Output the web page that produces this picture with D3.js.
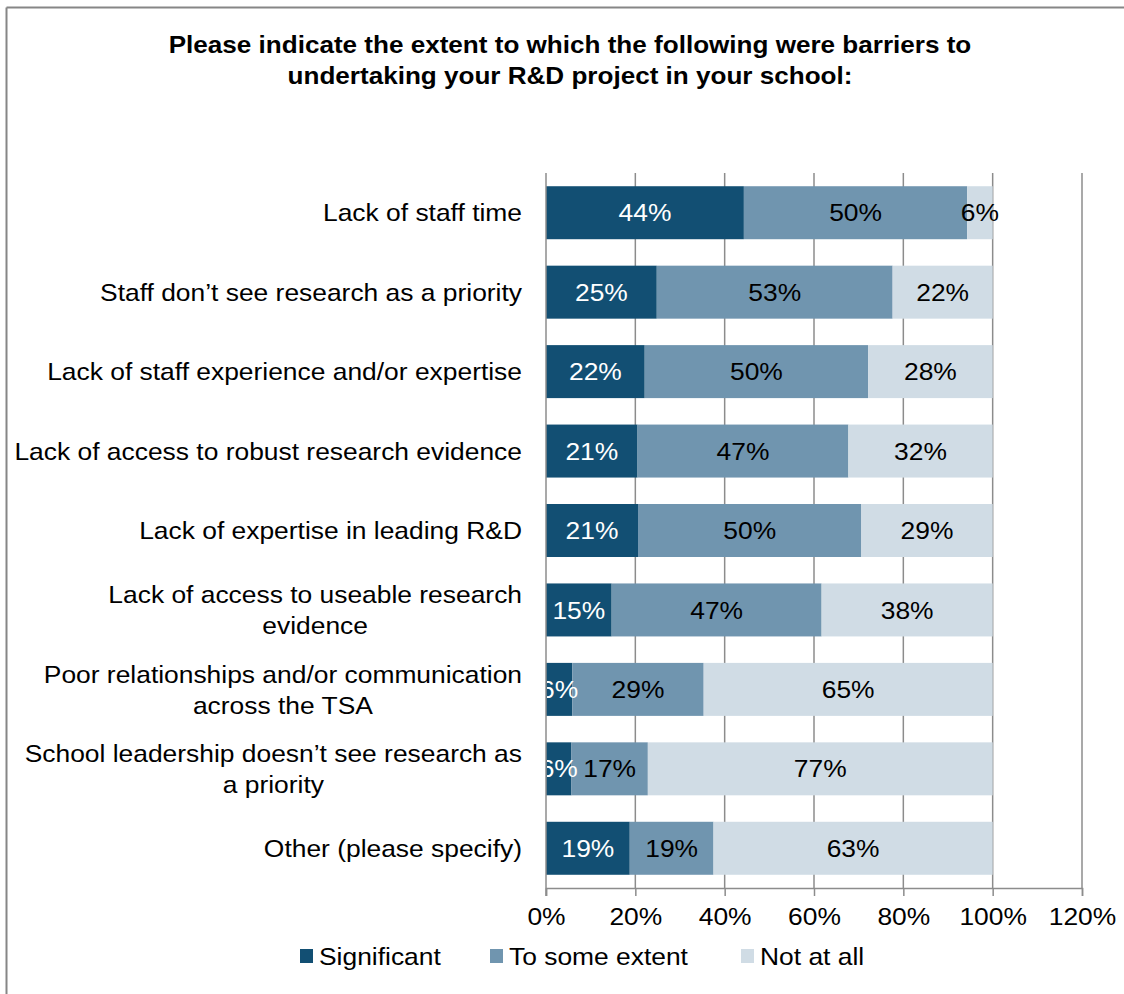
<!DOCTYPE html>
<html><head><meta charset="utf-8">
<script src="https://cdn.jsdelivr.net/npm/d3@7"></script>
<style>
html,body{margin:0;padding:0;background:#fff;}
svg{display:block;font-family:"Liberation Sans",Arial,sans-serif;}
</style></head>
<body>
<svg id="chart" width="1124" height="994"></svg>
<script>
const titleLines = ["Please indicate the extent to which the following were barriers to","undertaking your R&D project in your school:"];
const categories = [
  "Lack of staff time",
  "Staff don\u2019t see research as a priority",
  "Lack of staff experience and/or expertise",
  "Lack of access to robust research evidence",
  "Lack of expertise in leading R&D",
  "Lack of access to useable research\nevidence",
  "Poor relationships and/or communication\nacross the TSA",
  "School leadership doesn\u2019t see research as\na priority",
  "Other (please specify)"
];
const seriesNames = ["Significant","To some extent","Not at all"];
const significant = [44.3,24.8,22.1,20.5,20.6,14.7,5.9,5.7,18.75];
const someExtent  = [50.0,52.8,50.0,47.2,50.0,47.0,29.4,17.1,18.75];
const notAtAll    = [5.7,22.4,27.9,32.3,29.4,38.3,64.7,77.2,62.5];
const xTicks = [0,20,40,60,80,100,120];
const colors = ["#124f73","#7095af","#d0dce5"];
const labelColors = ["#ffffff","#000000","#000000"];

const SX = 1.1;   // horizontal stretch of the reference text
const FS = 24;

const svg = d3.select("#chart");
const W = 1124, H = 994;
const m = {left:546, right:1124-1082, top:173, bottom:994-888};

// chart border (top + left visible)
svg.append("line").attr("x1",6.5).attr("x2",W).attr("y1",7.5).attr("y2",7.5).attr("stroke","#868686").attr("stroke-width",2);
svg.append("line").attr("x1",6.5).attr("x2",6.5).attr("y1",7.5).attr("y2",H).attr("stroke","#868686").attr("stroke-width",2);

// title
const tt = svg.append("text").attr("transform","translate(570,53) scale(1.11,1)").attr("text-anchor","middle")
  .attr("font-weight","bold").attr("font-size",23.5);
tt.selectAll("tspan").data(titleLines).join("tspan")
  .attr("x",0).attr("y",(d,i)=>i*31).text(d=>d);

const x = d3.scaleLinear().domain([0,120]).range([m.left, W-m.right]);
const y = d3.scaleBand().domain(categories).range([m.top, H-m.bottom]).paddingInner(0.333).paddingOuter(0.1665);

// gridlines
svg.append("g").selectAll("line").data(xTicks.slice(1)).join("line")
  .attr("x1",d=>x(d)).attr("x2",d=>x(d)).attr("y1",m.top).attr("y2",H-m.bottom)
  .attr("stroke","#8c8c8c").attr("stroke-width",1.5);

// stacked data
const table = categories.map((c,i)=>({cat:c, "Significant":significant[i], "To some extent":someExtent[i], "Not at all":notAtAll[i]}));
const stacked = d3.stack().keys(seriesNames)(table);

svg.append("defs").append("clipPath").attr("id","plotclip").append("rect")
  .attr("x",m.left+1).attr("y",0).attr("width",W-m.left).attr("height",H);

const gBars = svg.append("g");
stacked.forEach((layer,si)=>{
  gBars.append("g").attr("fill",colors[si]).selectAll("rect").data(layer).join("rect")
    .attr("x",d=>x(d[0])).attr("width",d=>x(d[1])-x(d[0]))
    .attr("y",d=>y(d.data.cat)).attr("height",y.bandwidth());
});
const gLab = svg.append("g").attr("clip-path","url(#plotclip)").attr("font-size",FS);
stacked.forEach((layer,si)=>{
  gLab.append("g").attr("fill",labelColors[si]).selectAll("text").data(layer).join("text")
    .attr("transform",d=>`translate(${(x(d[0])+x(d[1]))/2},${y(d.data.cat)+y.bandwidth()/2}) scale(${SX},1)`)
    .attr("dy","0.36em").attr("text-anchor","middle")
    .text(d=>Math.round(d[1]-d[0])+"%");
});

// y axis line
svg.append("line").attr("x1",m.left).attr("x2",m.left).attr("y1",m.top).attr("y2",H-m.bottom+8)
  .attr("stroke","#8c8c8c").attr("stroke-width",1.5);
// x axis
const xAxis = svg.append("g").attr("transform",`translate(0,${H-m.bottom})`)
  .call(d3.axisBottom(x).tickValues(xTicks).tickFormat(d=>d+"%").tickSize(8).tickPadding(12));
xAxis.select(".domain").attr("stroke","#8c8c8c").attr("stroke-width",1.5);
xAxis.selectAll(".tick line").attr("stroke","#8c8c8c").attr("stroke-width",1.5);
xAxis.selectAll("text").attr("font-size",FS).attr("font-family","Liberation Sans, Arial, sans-serif")
  .attr("fill","#000").attr("transform",`scale(${SX},1)`);

// category labels
const catG = svg.append("g").attr("font-size",FS).attr("fill","#000");
categories.forEach(c=>{
  const lines = c.split("\n");
  const cy = y(c)+y.bandwidth()/2;
  const lh = 31;
  const t = catG.append("text").attr("transform",`translate(522,${cy}) scale(${SX},1)`).attr("text-anchor","end");
  lines.forEach((ln,i)=>{
    t.append("tspan").attr("x",0).attr("y",(i-(lines.length-1)/2)*lh).attr("dy","0.36em").text(ln);
  });
  if(lines.length>1){
    const spans = t.selectAll("tspan").nodes();
    const w0 = spans[0].getComputedTextLength();
    spans.forEach(s=>{ d3.select(s).attr("text-anchor","middle").attr("x",-w0/2); });
  }
});

// legend
const legX = [300,490,741];
const lg = svg.append("g").attr("font-size",FS);
seriesNames.forEach((s,i)=>{
  lg.append("rect").attr("x",legX[i]).attr("y",949).attr("width",13).attr("height",14).attr("fill",colors[i]);
  lg.append("text").attr("transform",`translate(${legX[i]+19},956) scale(${SX},1)`).attr("dy","0.36em").text(s);
});
</script>
</body></html>
